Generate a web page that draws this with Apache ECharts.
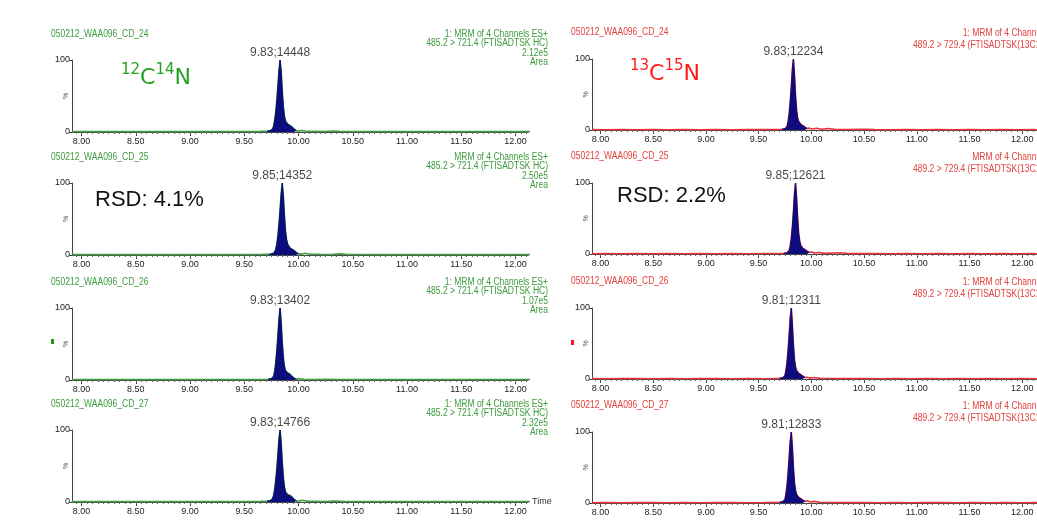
<!DOCTYPE html>
<html><head><meta charset="utf-8">
<script src="https://cdn.jsdelivr.net/npm/echarts@6/dist/echarts.min.js"></script>
<style>html,body{margin:0;padding:0;background:#fff}#c{width:1037px;height:520px}</style>
</head><body><div id="c"></div>
<script>
// ---------- data ----------
const xTickValues = [8.0, 8.5, 9.0, 9.5, 10.0, 10.5, 11.0, 11.5, 12.0];
const yTickValues = [0, 100];
const sampleNames = ['050212_WAA096_CD_24', '050212_WAA096_CD_25', '050212_WAA096_CD_26', '050212_WAA096_CD_27'];
const channelLine = ['1: MRM of 4 Channels ES+', 'MRM of 4 Channels ES+', '1: MRM of 4 Channels ES+', '1: MRM of 4 Channels ES+'];
const transitionL = '485.2 > 721.4 (FTISADTSK HC)';
const transitionR = '489.2 > 729.4 (FTISADTSK(13C15N) HC)';
const scaleL = ['2.12e5', '2.50e5', '1.07e5', '2.32e5'];
const peakLabelsL = ['9.83;14448', '9.85;14352', '9.83;13402', '9.83;14766'];
const peakLabelsR = ['9.83;12234', '9.85;12621', '9.81;12311', '9.81;12833'];
const integrationL = [[9.71, 9.98], [9.73, 10.00], [9.72, 9.98], [9.71, 9.98]];
const integrationR = [[9.72, 9.96], [9.74, 9.98], [9.70, 9.94], [9.70, 9.94]];
const rsdLabels = ['RSD: 4.1%', 'RSD: 2.2%'];

const traceL1 = [[7.91,0.6],[8.05,0.5],[8.20,0.7],[8.35,0.5],[8.50,0.6],[8.65,0.5],[8.80,0.7],[8.95,0.5],[9.10,0.6],[9.25,0.5],[9.40,0.7],[9.55,0.6],[9.65,0.8],[9.71,1.0],[9.74,2.0],[9.76,4.0],[9.77,8],[9.78,16],[9.79,28],[9.80,44],[9.81,64],[9.82,86],[9.83,100],[9.84,84],[9.85,57],[9.86,35],[9.87,22],[9.88,15],[9.90,11],[9.92,9],[9.94,7],[9.96,4],[9.98,1.8],[10.00,1.0],[10.03,2.2],[10.06,1.4],[10.12,0.8],[10.25,0.7],[10.32,1.3],[10.40,0.7],[10.55,0.6],[10.70,0.5],[10.85,0.7],[11.00,0.5],[11.15,0.6],[11.30,0.5],[11.45,0.7],[11.60,0.5],[11.75,0.6],[11.90,0.5],[12.05,0.6],[12.14,0.5]];
const traceL2 = [[7.91,0.5],[8.05,0.6],[8.20,0.5],[8.35,0.7],[8.50,0.5],[8.65,0.6],[8.80,0.5],[8.95,0.7],[9.10,0.5],[9.25,0.6],[9.40,0.5],[9.55,0.7],[9.67,0.8],[9.73,1.0],[9.76,1.8],[9.78,4.0],[9.79,8],[9.80,15],[9.81,27],[9.82,43],[9.83,63],[9.84,85],[9.85,100],[9.86,82],[9.87,55],[9.88,33],[9.89,21],[9.90,15],[9.92,10],[9.94,8],[9.96,6],[9.98,3.5],[10.00,1.6],[10.03,1.2],[10.06,2.4],[10.10,1.0],[10.20,0.8],[10.30,0.7],[10.38,1.6],[10.45,0.7],[10.60,0.6],[10.75,0.5],[10.90,0.7],[11.05,0.5],[11.20,0.6],[11.35,0.5],[11.50,0.7],[11.65,0.5],[11.80,0.6],[11.95,0.5],[12.10,0.6],[12.14,0.5]];
const traceL3 = [[7.91,0.6],[8.05,0.5],[8.20,0.6],[8.35,0.7],[8.50,0.5],[8.65,0.6],[8.80,0.5],[8.95,0.6],[9.10,0.7],[9.25,0.5],[9.40,0.6],[9.55,0.5],[9.66,0.7],[9.72,1.0],[9.75,1.9],[9.77,5],[9.78,12],[9.79,24],[9.80,41],[9.81,62],[9.82,85],[9.83,100],[9.84,80],[9.85,52],[9.86,31],[9.87,19],[9.88,13],[9.90,10],[9.92,8],[9.94,5],[9.96,2.5],[9.98,1.2],[10.01,1.8],[10.05,1.0],[10.15,0.7],[10.25,1.1],[10.35,0.7],[10.50,0.6],[10.65,0.5],[10.80,0.7],[10.95,0.5],[11.10,0.6],[11.25,0.5],[11.40,0.6],[11.55,0.7],[11.70,0.5],[11.85,0.6],[12.00,0.5],[12.14,0.6]];
const traceL4 = [[7.91,0.5],[8.05,0.6],[8.20,0.5],[8.35,0.6],[8.50,0.7],[8.65,0.5],[8.80,0.6],[8.95,0.5],[9.10,0.6],[9.25,0.7],[9.40,0.5],[9.55,0.6],[9.65,0.8],[9.71,1.1],[9.74,2.1],[9.76,4.2],[9.77,9],[9.78,17],[9.79,30],[9.80,46],[9.81,66],[9.82,88],[9.83,100],[9.84,82],[9.85,55],[9.86,34],[9.87,21],[9.88,14],[9.90,10],[9.92,9],[9.94,7],[9.96,3.5],[9.98,1.6],[10.00,1.0],[10.03,2.4],[10.07,1.5],[10.12,0.8],[10.25,0.7],[10.33,1.4],[10.42,0.7],[10.55,0.6],[10.70,0.5],[10.85,0.6],[11.00,0.7],[11.15,0.5],[11.30,0.6],[11.45,0.5],[11.60,0.7],[11.75,0.5],[11.90,0.6],[12.05,0.5],[12.14,0.6]];

const traceR1 = [[7.92,0.5],[8.05,0.4],[8.20,0.6],[8.35,0.4],[8.50,0.5],[8.65,0.4],[8.80,0.6],[8.95,0.4],[9.10,0.5],[9.25,0.4],[9.40,0.6],[9.55,0.5],[9.66,0.6],[9.72,0.9],[9.75,1.8],[9.77,5],[9.78,12],[9.79,23],[9.80,40],[9.81,61],[9.82,85],[9.83,100],[9.84,78],[9.85,49],[9.86,28],[9.87,17],[9.88,12],[9.90,8],[9.92,6],[9.94,4],[9.96,2.0],[9.98,2.6],[10.01,1.4],[10.05,2.4],[10.10,1.0],[10.16,2.0],[10.22,0.9],[10.35,0.6],[10.50,1.1],[10.60,0.5],[10.75,0.4],[10.90,0.6],[11.05,0.4],[11.20,0.5],[11.35,0.4],[11.50,0.6],[11.65,0.4],[11.80,0.5],[11.95,0.4],[12.10,0.5],[12.14,0.4]];
const traceR2 = [[7.92,0.4],[8.05,0.5],[8.20,0.4],[8.35,0.6],[8.50,0.4],[8.65,0.5],[8.80,0.4],[8.95,0.6],[9.10,0.4],[9.25,0.5],[9.40,0.4],[9.55,0.6],[9.68,0.6],[9.74,0.9],[9.77,1.7],[9.79,5],[9.80,11],[9.81,22],[9.82,38],[9.83,59],[9.84,84],[9.85,100],[9.86,80],[9.87,51],[9.88,29],[9.89,18],[9.90,12],[9.92,8],[9.94,6],[9.96,4],[9.98,2.2],[10.00,2.8],[10.03,1.3],[10.07,2.2],[10.12,0.9],[10.28,1.8],[10.34,0.8],[10.45,0.5],[10.60,0.6],[10.75,0.4],[10.90,0.5],[11.05,0.4],[11.20,0.6],[11.35,0.4],[11.50,0.5],[11.65,0.4],[11.80,0.6],[11.95,0.4],[12.10,0.5],[12.14,0.4]];
const traceR3 = [[7.92,0.5],[8.05,0.4],[8.20,0.5],[8.35,0.6],[8.50,0.4],[8.65,0.5],[8.80,0.4],[8.95,0.5],[9.10,0.6],[9.25,0.4],[9.40,0.5],[9.55,0.4],[9.64,0.6],[9.70,0.9],[9.73,1.8],[9.75,5],[9.76,12],[9.77,24],[9.78,41],[9.79,62],[9.80,86],[9.81,100],[9.82,77],[9.83,48],[9.84,27],[9.85,17],[9.86,12],[9.88,8],[9.90,6],[9.92,4],[9.94,2.0],[9.96,2.4],[9.99,1.2],[10.03,2.0],[10.08,0.9],[10.20,0.6],[10.35,0.5],[10.50,0.6],[10.65,0.4],[10.80,0.5],[10.95,0.4],[11.10,0.6],[11.25,0.4],[11.40,0.5],[11.55,0.4],[11.70,0.6],[11.85,0.4],[12.00,0.5],[12.14,0.4]];
const traceR4 = [[7.92,0.4],[8.05,0.5],[8.20,0.4],[8.35,0.5],[8.50,0.6],[8.65,0.4],[8.80,0.5],[8.95,0.4],[9.10,0.5],[9.25,0.6],[9.40,0.4],[9.55,0.5],[9.64,0.6],[9.70,1.0],[9.73,1.9],[9.75,5],[9.76,13],[9.77,25],[9.78,43],[9.79,64],[9.80,87],[9.81,100],[9.82,79],[9.83,50],[9.84,28],[9.85,18],[9.86,12],[9.88,8],[9.90,6],[9.92,4],[9.94,2.2],[9.96,3.0],[9.99,1.4],[10.03,2.3],[10.08,1.0],[10.18,0.6],[10.35,0.5],[10.50,0.6],[10.65,0.4],[10.80,0.5],[10.95,0.4],[11.10,0.5],[11.25,0.6],[11.40,0.4],[11.55,0.5],[11.70,0.4],[11.85,0.6],[12.00,0.4],[12.14,0.5]];

// ---------- layout / style ----------
const SANS = '"Liberation Sans",Arial,sans-serif';
const cols = [
  { left: 72, width: 456, xMin: 7.912, xMax: 12.115, tops: [60, 183, 308, 430], height: 72, traceColor: '#3f9f3f', hdrColor: '#3c9a3c',
    traces: [traceL1, traceL2, traceL3, traceL4], peaks: peakLabelsL, integ: integrationL },
  { left: 592, width: 449, xMin: 7.92, xMax: 12.14, tops: [59, 183, 308, 432], height: 71, traceColor: '#e8333a', hdrColor: '#e2403c',
    traces: [traceR1, traceR2, traceR3, traceR4], peaks: peakLabelsR, integ: integrationR }
];
const PEAK_FILL = '#0c0c7c';
const HDR_FONT = '10px ' + SANS;
const HDR_SCALE = 0.85;

const minorTicks = [];
for (let k = 0; k <= 84; k++) { const v = +(7.95 + k * 0.05).toFixed(2); minorTicks.push(v); }

function hdrText(text, x, y, color, align) {
  return { type: 'text', x: x, y: y, scaleX: HDR_SCALE, scaleY: 1, silent: true,
    style: { text: text, x: 0, y: 0, fill: color, font: HDR_FONT, align: align, verticalAlign: 'middle' } };
}

const grid = [], xAxis = [], yAxis = [], series = [], graphic = [];
let gi = 0;
cols.forEach((col, c) => {
  col.tops.forEach((top, p) => {
    grid.push({ left: col.left, top: top, width: col.width, height: col.height });
    const isTimeAxis = (c === 0 && p === 3);
    xAxis.push({
      gridIndex: gi, type: 'value', min: col.xMin, max: col.xMax, position: 'bottom',
      axisLine: { show: true, onZero: false, lineStyle: { color: '#444', width: 1 } },
      axisTick: { show: true, customValues: xTickValues, length: 4, lineStyle: { color: '#444' } },
      axisLabel: { show: true, customValues: xTickValues, formatter: v => v.toFixed(2), fontSize: 9, color: '#222', margin: 5, fontFamily: SANS },
      splitLine: { show: false },
      name: isTimeAxis ? 'Time' : '', nameLocation: 'end', nameGap: 4,
      nameTextStyle: { fontSize: 9, color: '#333', fontFamily: SANS }
    });
    xAxis.push({
      gridIndex: gi, type: 'value', min: col.xMin, max: col.xMax, position: 'bottom',
      axisLine: { show: false, onZero: false },
      axisTick: { show: true, customValues: minorTicks.filter(v => v <= col.xMax), length: 2, lineStyle: { color: '#666' } },
      axisLabel: { show: false }, splitLine: { show: false }
    });
    yAxis.push({
      gridIndex: gi, type: 'value', min: 0, max: 100, interval: 100,
      axisLine: { show: true, lineStyle: { color: '#444', width: 1 } },
      axisTick: { show: true, length: 3, lineStyle: { color: '#444' } },
      axisLabel: { fontSize: 9, color: '#222', margin: 2, fontFamily: SANS },
      splitLine: { show: false },
      name: '%', nameLocation: 'middle', nameGap: 2, nameRotate: 90, nameMoveOverlap: false,
      nameTextStyle: { fontSize: 7, color: '#555', fontFamily: SANS }
    });
    const trace = col.traces[p];
    const [s0, s1] = col.integ[p];
    const peakPts = trace.filter(d => d[0] >= s0 && d[0] <= s1);
    let apex = trace[0];
    trace.forEach(d => { if (d[1] > apex[1]) apex = d; });
    series.push({
      type: 'line', xAxisIndex: gi * 2, yAxisIndex: gi, data: trace, symbol: 'none',
      lineStyle: { color: col.traceColor, width: 1.6 }, z: 2, silent: true
    });
    series.push({
      type: 'line', xAxisIndex: gi * 2, yAxisIndex: gi, data: peakPts, symbol: 'none',
      lineStyle: { color: PEAK_FILL, width: 1 }, areaStyle: { color: PEAK_FILL, opacity: 1 }, z: 3, silent: true
    });
    const lbl = col.peaks[p];
    series.push({
      type: 'scatter', xAxisIndex: gi * 2, yAxisIndex: gi, data: [apex], symbolSize: 1,
      itemStyle: { color: 'rgba(0,0,0,0)' }, z: 4, silent: true,
      label: { show: true, position: 'top', distance: 1, formatter: () => lbl, fontSize: 12, color: '#151515', fontFamily: SANS }
    });
    // headers
    if (c === 0) {
      graphic.push(hdrText(sampleNames[p], 51, top - 26, col.hdrColor, 'left'));
      const lines = [channelLine[p], transitionL, scaleL[p], 'Area'];
      lines.forEach((t, k) => graphic.push(hdrText(t, 548, top - 26 + k * 9.5, col.hdrColor, 'right')));
    } else {
      graphic.push(hdrText(sampleNames[p], 571, top - 27, col.hdrColor, 'left'));
      graphic.push(hdrText(channelLine[p], 1066, top - 26, col.hdrColor, 'right'));
      graphic.push(hdrText(transitionR, 913, top - 14, col.hdrColor, 'left'));
    }
    gi++;
  });
});

// isotope labels & RSD
const isoFont = '"DejaVu Sans",sans-serif';
graphic.push({ type: 'text', style: { x: 121, y: 89, verticalAlign: 'bottom', align: 'left',
  text: '{s|12}{b|C}{s|14}{b|N}',
  rich: { b: { fontSize: 22, fontFamily: isoFont, fill: '#22a022', verticalAlign: 'bottom', lineHeight: 26 },
          s: { fontSize: 15, fontFamily: isoFont, fill: '#22a022', verticalAlign: 'top', lineHeight: 26 } } } });
graphic.push({ type: 'text', style: { x: 630, y: 85, verticalAlign: 'bottom', align: 'left',
  text: '{s|13}{b|C}{s|15}{b|N}',
  rich: { b: { fontSize: 22, fontFamily: isoFont, fill: '#ff1a1a', verticalAlign: 'bottom', lineHeight: 26 },
          s: { fontSize: 15, fontFamily: isoFont, fill: '#ff1a1a', verticalAlign: 'top', lineHeight: 26 } } } });
graphic.push({ type: 'text', style: { text: rsdLabels[0], x: 95, y: 200, fill: '#111', font: '22px ' + SANS, align: 'left', verticalAlign: 'middle' } });
graphic.push({ type: 'text', style: { text: rsdLabels[1], x: 617, y: 196, fill: '#111', font: '22px ' + SANS, align: 'left', verticalAlign: 'middle' } });
// small channel markers
graphic.push({ type: 'rect', shape: { x: 51, y: 339, width: 3, height: 5 }, style: { fill: '#1a9a1a' } });
graphic.push({ type: 'rect', shape: { x: 571, y: 340, width: 3, height: 5 }, style: { fill: '#ff1010' } });

const chart = echarts.init(document.getElementById('c'), null, { renderer: 'canvas' });
chart.setOption({ backgroundColor: '#fff', animation: false, grid, xAxis, yAxis, series, graphic });
</script>
</body></html>
